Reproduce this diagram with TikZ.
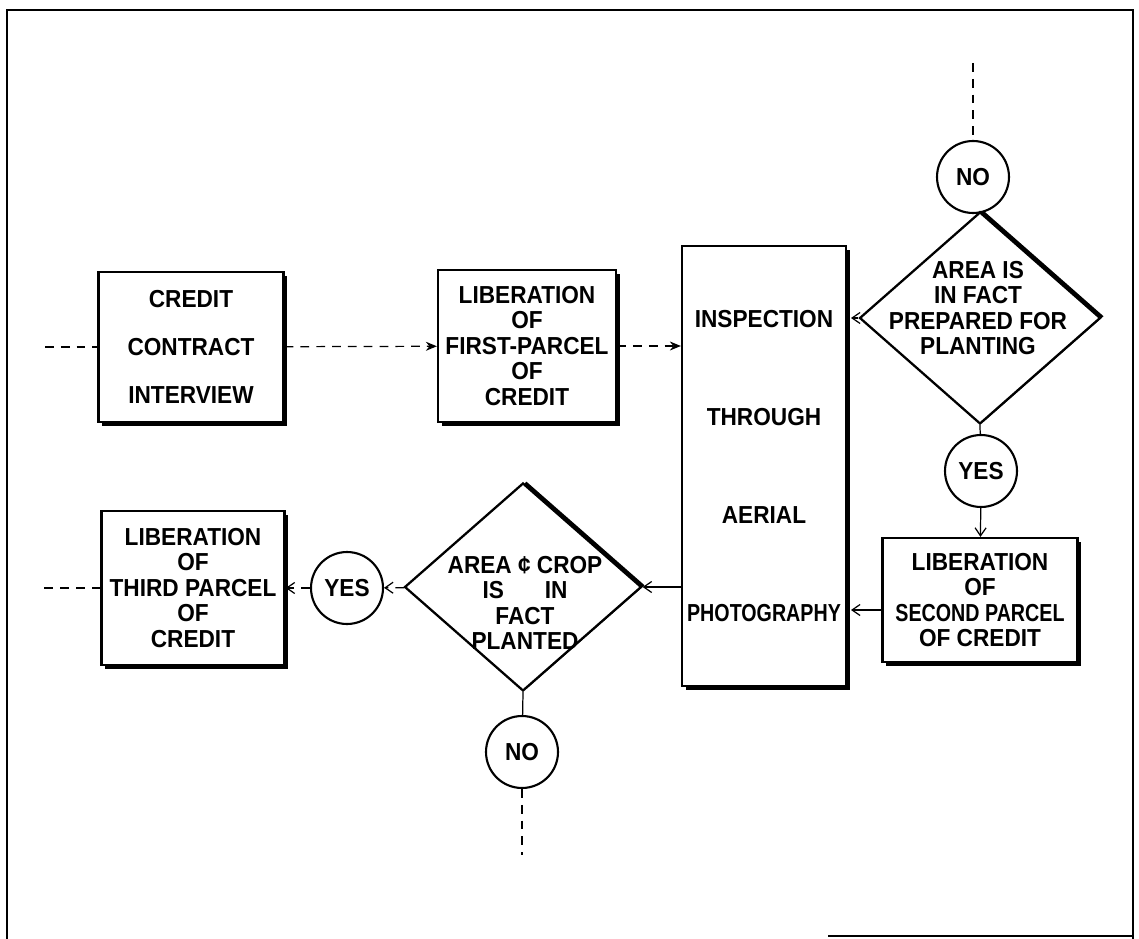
\documentclass[tikz,border=0pt]{standalone}
\usepackage{fontspec}
\newfontfamily\labfont[FakeStretch=0.92]{Liberation Sans}
\newfontfamily\labnarrow[FakeStretch=0.8]{Liberation Sans}
\usetikzlibrary{arrows.meta, positioning, shapes.geometric, shadows}

\begin{document}
\begin{tikzpicture}[
  x=0.02cm, y=-0.02cm,
  lbl/.style={font=\labfont\bfseries\fontsize{14}{14.5}\selectfont, align=center, inner sep=0pt},
  box/.style={lbl, rectangle, draw, line width=1.3pt, fill=white, general shadow={fill=black, shadow xshift=2.2pt, shadow yshift=-2.2pt}},
  decision/.style={diamond, draw, line width=1.3pt, fill=white, inner sep=0pt, general shadow={fill=black, shadow xshift=2pt, shadow yshift=1pt}},
  answer/.style={lbl, circle, draw, line width=1.2pt, minimum size=1.44cm},
  flow/.style={line width=0.7pt},
  dashflow/.style={flow, dash pattern=on 5pt off 4pt},
  arr/.style={-{Straight Barb[length=1.6mm, width=2.2mm]}},
  farr/.style={-{Stealth[length=2.2mm, width=1.8mm]}}
]
\useasboundingbox (0,0) rectangle (1139,939);
% frame
\draw[line width=0.9pt] (7,939) -- (7,10) -- (1133,10) -- (1133,939);
\draw[line width=0.9pt] (828,936) -- (1133,936);

% upper row
\node[box, minimum width=3.7cm, minimum height=3cm] (credit) at (191,347) {CREDIT\\[0.45cm]CONTRACT\\[0.45cm]INTERVIEW};
\node[box, minimum width=3.56cm, minimum height=3.04cm] (parcel1) at (527,346) {LIBERATION\\OF\\FIRST-PARCEL\\OF\\CREDIT};
\node[box, minimum width=3.28cm, minimum height=8.8cm] (inspect) at (764,466) {INSPECTION\\[1.45cm]THROUGH\\[1.45cm]AERIAL\\[1.45cm]{\labnarrow\bfseries PHOTOGRAPHY}};
\node[decision, minimum width=4.82cm, minimum height=4.24cm] (check1) at (980,318) {};
\node[lbl] (check1txt) at (978,308) {AREA IS\\IN FACT\\PREPARED FOR\\PLANTING};
\node[answer] (no1) at (973,177) {NO};
\node[answer] (yes1) at (981,471) {YES};
\node[box, minimum width=3.9cm, minimum height=2.48cm] (parcel2) at (980,600) {LIBERATION\\OF\\{\labnarrow\bfseries SECOND PARCEL}\\OF CREDIT};

% lower row
\node[decision, minimum width=4.74cm, minimum height=4.16cm] (check2) at (523,587) {};
\node[lbl] (check2txt) at (525,603) {AREA ¢ CROP\\IS\hspace{0.82cm}IN\\FACT\\PLANTED};
\node[answer] (yes2) at (347,588) {YES};
\node[answer] (no2) at (522,752) {NO};
\node[box, minimum width=3.66cm, minimum height=3.08cm] (parcel3) at (193,588) {LIBERATION\\OF\\THIRD PARCEL\\OF\\CREDIT};

\coordinate (inL) at (45,347);
\coordinate (topIn) at (973,63);
\coordinate (outL) at (40,588);
\coordinate (botOut) at (522,855);
\coordinate (p2out) at ([yshift=-0.2cm]parcel2.west);

% connectors
\draw[dashflow] (inL) -- (credit);
\draw[dashflow, farr] (credit) -- (parcel1);
\draw[dashflow, farr] (parcel1.east) -- (parcel1.east -| inspect.west);
\draw[dashflow] (topIn) -- (no1);
\draw[flow] (no1) -- (check1.north);
\draw[flow, arr] (check1.west) -- ([xshift=2.2pt]check1.west -| inspect.east);
\draw[flow] (check1.south) -- (yes1);
\draw[flow, arr] (yes1) -- (parcel2);
\draw[flow, arr] (p2out) -- ([xshift=2.2pt]p2out -| inspect.east);
\draw[flow, arr] (check2.east -| inspect.west) -- (check2);
\draw[dashflow, arr] (check2) -- (yes2);
\draw[dashflow, arr] (yes2) -- (parcel3);
\draw[dashflow] (parcel3) -- (outL);
\draw[flow] (check2.south) -- (no2);
\draw[dashflow] (no2) -- (botOut);
\end{tikzpicture}
\end{document}
